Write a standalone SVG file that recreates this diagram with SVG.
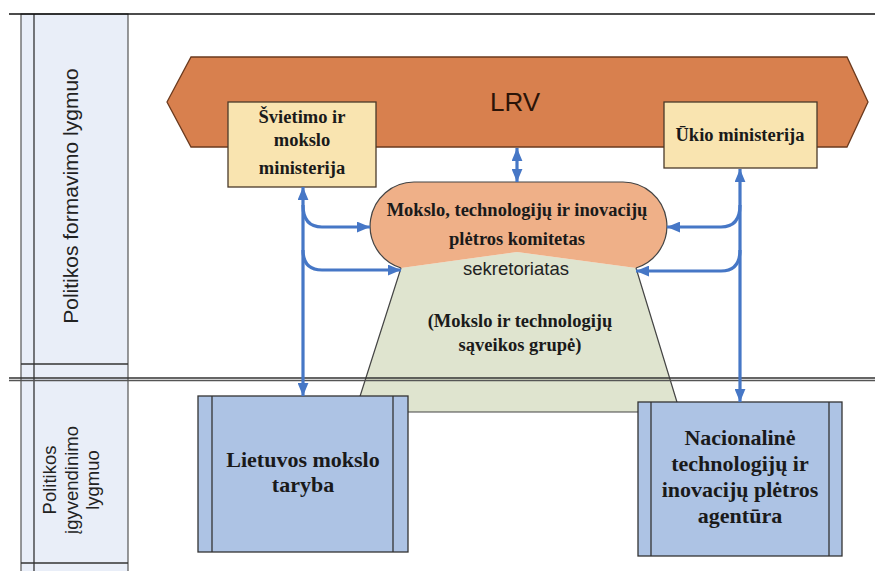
<svg xmlns="http://www.w3.org/2000/svg" width="875" height="571" viewBox="0 0 875 571">
<style>
.lane{fill:#e9eef8;stroke:#555;stroke-width:1.2}
.ln{stroke:#333;stroke-width:1.3;fill:none}
.lanet{font-family:"Liberation Sans",Arial,sans-serif;fill:#222;text-anchor:middle}
.bt{font-family:"Liberation Serif","Times New Roman",serif;font-weight:bold;fill:#1a1a1a;text-anchor:middle;font-size:18.5px}
.big{font-size:22px}
.min{fill:#f9e4b0;stroke:#4a3a2a;stroke-width:1.3}
.blue{fill:#adc3e4;stroke:#333;stroke-width:1.3}
.arr{stroke:#4677c6;stroke-width:3.2;fill:none}
</style>
<defs>
<marker id="ah" viewBox="0 0 12 10" refX="12" refY="5" markerWidth="13" markerHeight="11" markerUnits="userSpaceOnUse" orient="auto-start-reverse">
<path d="M0,0 L12,5 L0,10 Z" fill="#4677c6"/>
</marker>
</defs>
<rect width="875" height="571" fill="#fff"/>
<g id="lanes">
<rect class="lane" x="21" y="14" width="107" height="560"/>
<line class="ln" x1="34" y1="14" x2="34" y2="571"/>
<line class="ln" x1="21" y1="364" x2="128" y2="364"/>
<line class="ln" x1="21" y1="563" x2="128" y2="563"/>
<line x1="9" y1="14" x2="875" y2="14" stroke="#111" stroke-width="1.6"/>
<text class="lanet" font-size="21" transform="translate(78,196) rotate(-90)">Politikos formavimo lygmuo</text>
<text class="lanet" font-size="18.5" transform="translate(78,480) rotate(-90)"><tspan x="0" y="-22">Politikos</tspan><tspan x="0" y="0">įgyvendinimo</tspan><tspan x="0" y="21">lygmuo</tspan></text>
</g>
<g id="lrv">
<polygon points="167,102 191,57 847,57 868,102 847,147 191,147" fill="#d8804e" stroke="#6b3a1e" stroke-width="1.3"/>
<text x="515" y="111" font-family="Liberation Sans,Arial,sans-serif" font-size="26" fill="#2b1408" text-anchor="middle">LRV</text>
</g>
<g id="smm">
<rect class="min" x="228" y="102" width="148" height="85"/>
<text class="bt"><tspan x="302" y="123">Švietimo ir</tspan><tspan x="302" y="146">mokslo</tspan><tspan x="302" y="174">ministerija</tspan></text>
</g>
<g id="um">
<rect class="min" x="664" y="102" width="153" height="66"/>
<text class="bt" x="740" y="141">Ūkio ministerija</text>
</g>
<g id="grupe">
<polygon points="401,268 517,252 636,268 680,412 355,412" fill="#dfe4cf"/>
<polyline points="401,268 355,412 680,412 636,268" fill="none" stroke="#444" stroke-width="1.2"/>
<text x="516" y="275" font-family="Liberation Sans,Arial,sans-serif" font-size="18.5" fill="#222" text-anchor="middle">sekretoriatas</text>
<text class="bt"><tspan x="520" y="327">(Mokslo ir technologijų</tspan><tspan x="520" y="351">sąveikos grupė)</tspan></text>
</g>
<g id="komitetas">
<path d="M401,268 A44,44 0 0 1 414,182 L623,182 A44,44 0 0 1 636,268 L517,252 Z" fill="#efb088"/>
<path d="M401,268 A44,44 0 0 1 414,182 L623,182 A44,44 0 0 1 636,268" fill="none" stroke="#444" stroke-width="1.2"/>
<text class="bt"><tspan x="517" y="216">Mokslo, technologijų ir inovacijų</tspan><tspan x="517" y="245">plėtros komitetas</tspan></text>
</g>
<g id="separator">
<line x1="9" y1="378" x2="875" y2="378" stroke="#333" stroke-width="1.3"/>
<line x1="9" y1="380.5" x2="875" y2="380.5" stroke="#555" stroke-width="1.3"/>
</g>
<g id="lmt">
<rect class="blue" x="198" y="396" width="210" height="156"/>
<line class="ln" x1="212" y1="396" x2="212" y2="552"/>
<line class="ln" x1="393" y1="396" x2="393" y2="552"/>
<text class="bt big"><tspan x="303" y="467">Lietuvos mokslo</tspan><tspan x="303" y="492">taryba</tspan></text>
</g>
<g id="agentura">
<rect class="blue" x="638" y="402" width="204" height="154"/>
<line class="ln" x1="651" y1="402" x2="651" y2="556"/>
<line class="ln" x1="829" y1="402" x2="829" y2="556"/>
<text class="bt big"><tspan x="740" y="445">Nacionalinė</tspan><tspan x="740" y="471">technologijų ir</tspan><tspan x="740" y="497">inovacijų plėtros</tspan><tspan x="740" y="523">agentūra</tspan></text>
</g>
<g id="connectors">
<path class="arr" d="M303,396 L303,187" marker-start="url(#ah)" marker-end="url(#ah)"/>
<path class="arr" d="M303,205 Q303,227 322,227 L370,227" marker-end="url(#ah)"/>
<path class="arr" d="M303,250 Q303,270 322,270 L401,270" marker-end="url(#ah)"/>
<path class="arr" d="M740,402 L740,169" marker-start="url(#ah)" marker-end="url(#ah)"/>
<path class="arr" d="M740,205 Q740,227 721,227 L667,227" marker-end="url(#ah)"/>
<path class="arr" d="M740,250 Q740,271 721,271 L636,271" marker-end="url(#ah)"/>
<path class="arr" d="M517,148 L517,182" marker-start="url(#ah)" marker-end="url(#ah)"/>
</g>
</svg>
